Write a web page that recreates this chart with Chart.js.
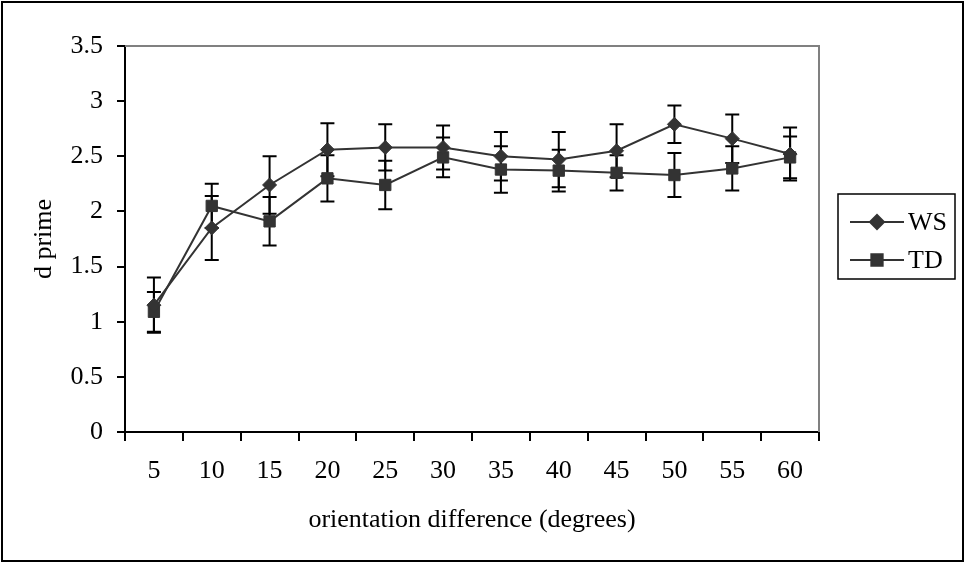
<!DOCTYPE html>
<html>
<head>
<meta charset="utf-8">
<script src="https://cdn.jsdelivr.net/npm/chart.js@4"></script>
<style>
  body { margin: 0; background: #fff; }
  canvas { display: block; }
</style>
</head>
<body>
<canvas id="myChart" width="965" height="563"></canvas>
<script>
// orientation differences (x categories)
var degrees = ["5", "10", "15", "20", "25", "30", "35", "40", "45", "50", "55", "60"];

// d prime means and error bar half-lengths
var ws = [1.15, 1.85, 2.24, 2.56, 2.58, 2.58, 2.50, 2.47, 2.55, 2.79, 2.66, 2.52];
var wsErr = [0.25, 0.29, 0.26, 0.24, 0.21, 0.20, 0.22, 0.25, 0.24, 0.17, 0.22, 0.24];
var td = [1.09, 2.05, 1.91, 2.30, 2.24, 2.49, 2.38, 2.37, 2.35, 2.33, 2.39, 2.49];
var tdErr = [0.18, 0.20, 0.22, 0.21, 0.22, 0.18, 0.21, 0.19, 0.16, 0.20, 0.20, 0.19];

var serif = "'Liberation Serif', 'Times New Roman', serif";
var fontSize = 26;
var markColor = "#333333";

/** Outer frame, gray top/right plot border and the error bars (under the markers) */
var framePlugin = {
	id: "frame",
	beforeDraw: function(chart) {
		var ctx = chart.ctx;
		ctx.save();
		ctx.fillStyle = "#fff";
		ctx.fillRect(0, 0, chart.width, chart.height);
		ctx.strokeStyle = "#000";
		ctx.lineWidth = 2;
		ctx.strokeRect(2, 2, chart.width - 4, chart.height - 4);
		ctx.restore();
	},
	beforeDatasetsDraw: function(chart) {
		var ctx = chart.ctx;
		var a = chart.chartArea;
		ctx.save();
		ctx.strokeStyle = "#808080";
		ctx.lineWidth = 2;
		ctx.beginPath();
		ctx.moveTo(a.left, a.top);
		ctx.lineTo(a.right, a.top);
		ctx.lineTo(a.right, a.bottom);
		ctx.stroke();

		// error bars
		var xs = chart.scales.x, ys = chart.scales.y;
		var sets = [[ws, wsErr], [td, tdErr]];
		ctx.strokeStyle = "#000";
		ctx.lineWidth = 2;
		sets.forEach(function(s) {
			for (var i = 0; i < s[0].length; i++) {
				var x = xs.getPixelForValue(i);
				var hi = ys.getPixelForValue(s[0][i] + s[1][i]);
				var lo = ys.getPixelForValue(s[0][i] - s[1][i]);
				ctx.beginPath();
				ctx.moveTo(x, hi); ctx.lineTo(x, lo);
				ctx.moveTo(x - 7, hi); ctx.lineTo(x + 7, hi);
				ctx.moveTo(x - 7, lo); ctx.lineTo(x + 7, lo);
				ctx.stroke();
			}
		});
		ctx.restore();
	},
	afterDraw: function(chart) {
		// boxed legend on the right
		var ctx = chart.ctx;
		ctx.save();
		ctx.strokeStyle = "#000";
		ctx.lineWidth = 1.5;
		ctx.strokeRect(838, 194, 117, 85);
		var rows = [
			{ label: "WS", y: 222, style: "rectRot", r: 7 },
			{ label: "TD", y: 260, style: "rect", r: 8 }
		];
		rows.forEach(function(row) {
			ctx.strokeStyle = markColor;
			ctx.lineWidth = 2;
			ctx.beginPath();
			ctx.moveTo(850, row.y);
			ctx.lineTo(904, row.y);
			ctx.stroke();
			ctx.fillStyle = markColor;
			Chart.helpers.drawPoint(ctx, { pointStyle: row.style, radius: row.r, borderWidth: 1 }, 877, row.y);
			ctx.fillStyle = "#000";
			ctx.font = fontSize + "px " + serif;
			ctx.textAlign = "left";
			ctx.textBaseline = "middle";
			ctx.fillText(row.label, 908, row.y + 1);
		});
		ctx.restore();
	}
};

var ctx = document.getElementById("myChart").getContext("2d");
var myChart = new Chart(ctx, {
	type: "line",
	data: {
		labels: degrees,
		datasets: [{
			label: "WS",
			data: ws,
			borderColor: markColor,
			backgroundColor: markColor,
			borderWidth: 2,
			pointStyle: "rectRot",
			pointRadius: 7,
			pointBorderWidth: 1,
			tension: 0
		}, {
			label: "TD",
			data: td,
			borderColor: markColor,
			backgroundColor: markColor,
			borderWidth: 2,
			pointStyle: "rect",
			pointRadius: 8,
			pointBorderWidth: 1,
			tension: 0
		}]
	},
	options: {
		responsive: false,
		animation: false,
		devicePixelRatio: 1,
		layout: { padding: { top: 46, right: 146, left: 0, bottom: 0 } },
		plugins: {
			legend: { display: false },
			tooltip: { enabled: false }
		},
		scales: {
			x: {
				offset: true,
				grid: { offset: true, drawOnChartArea: false, drawTicks: true, tickLength: 9, color: "#000", lineWidth: 2 },
				border: { color: "#000", width: 2 },
				ticks: { color: "#000", font: { family: serif, size: fontSize }, padding: 15, maxRotation: 0 },
				title: { display: true, text: "orientation difference (degrees)", color: "#000",
					font: { family: serif, size: fontSize }, padding: { top: 0, bottom: 27 } },
				afterFit: function(scale) { scale.height = 131; }
			},
			y: {
				min: 0,
				max: 3.5,
				ticks: { stepSize: 0.5, color: "#000", font: { family: serif, size: fontSize }, padding: 14,
					callback: function(value) { return String(value); } },
				grid: { drawOnChartArea: false, drawTicks: true, tickLength: 8, color: "#000", lineWidth: 2 },
				border: { color: "#000", width: 2 },
				title: { display: true, text: "d prime", color: "#000",
					font: { family: serif, size: fontSize }, padding: { top: 29, bottom: 0 } },
				afterFit: function(scale) { scale.width = 125; }
			}
		}
	},
	plugins: [framePlugin]
});
</script>
</body>
</html>
